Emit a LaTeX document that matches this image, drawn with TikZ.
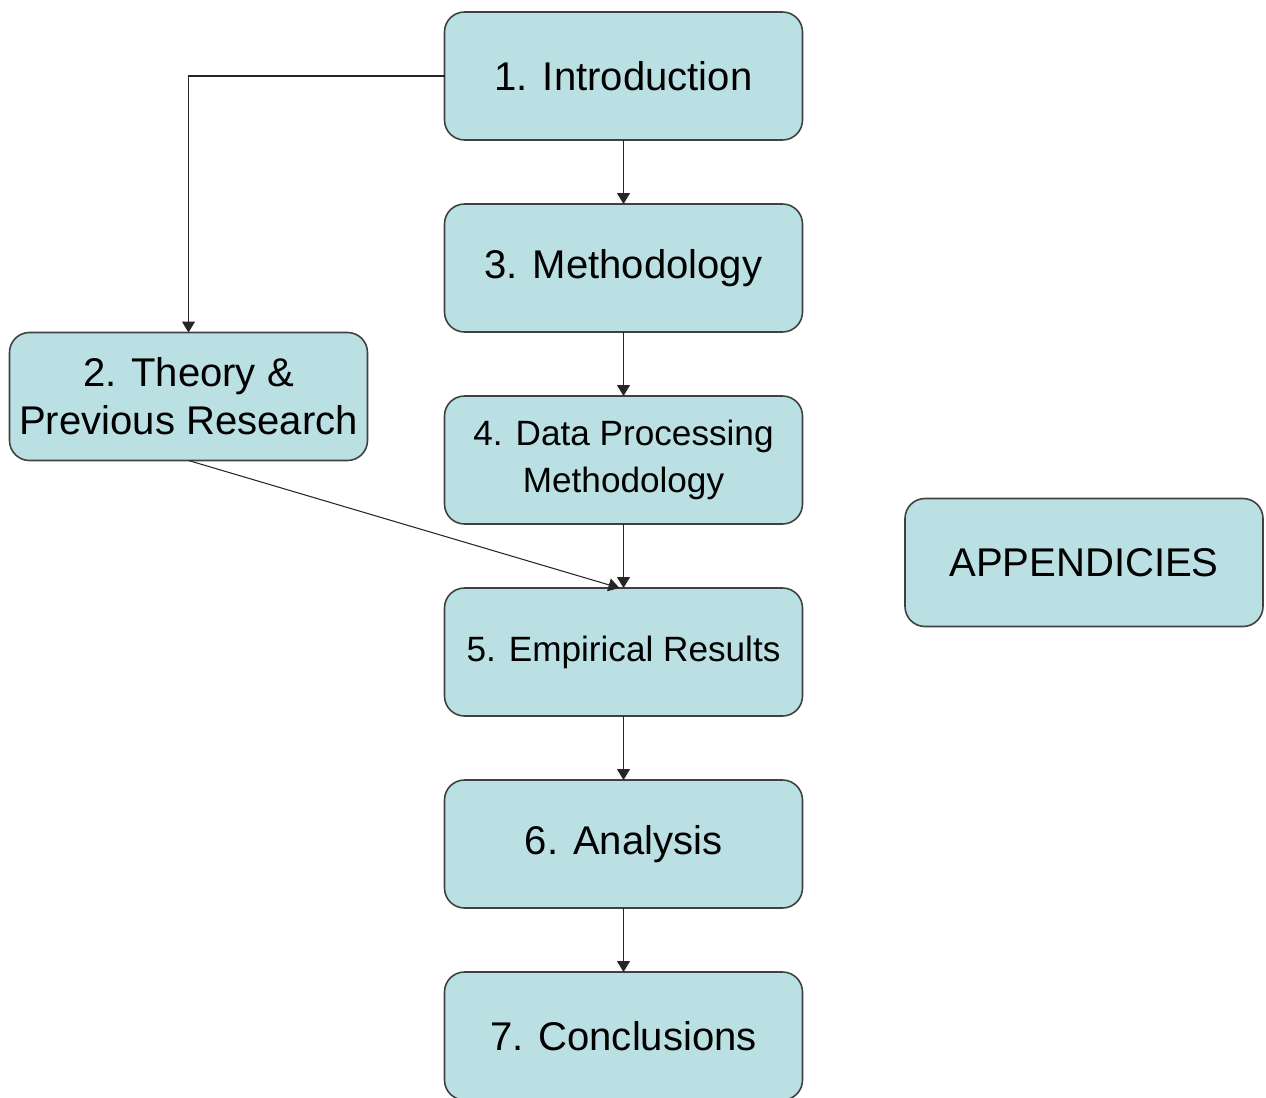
\documentclass[tikz,border=0pt]{standalone}
\usepackage{fontspec}
\setmainfont{Liberation Sans}
\usepackage{xcolor}
\usepackage{tikz}
\usetikzlibrary{positioning,arrows.meta}
\definecolor{chapfill}{HTML}{BAE0E3}
\definecolor{chapline}{HTML}{404040}
\begin{document}
\begin{tikzpicture}[node distance=1.28cm, font=\fontsize{22.8}{27.4}\selectfont,
  box/.style={draw=chapline,line width=0.9pt,rounded corners=0.4cm,align=center,minimum width=7.16cm,minimum height=2.56cm,outer sep=0pt,fill=#1},
  box/.default=chapfill,
  small/.style={font=\fontsize{20}{26.5}\selectfont},
  link/.style={draw=black!85,line width=0.6pt,-{Triangle[length=0.22cm,width=0.26cm]}}]
\useasboundingbox (0,0) rectangle (25.32,-21.94);
\node[box] (intro) at (12.47,-1.52) {1. Introduction};
\node[box,below=of intro] (meth) {3. Methodology};
\node[box,below=of meth,small] (data) {4. Data Processing\\ Methodology};
\node[box,below=of data,small] (emp) {5. Empirical Results};
\node[box,below=of emp] (ana) {6. Analysis};
\node[box,below=of ana] (concl) {7. Conclusions};
\node[box] (theory) at (3.77,-7.93) {2. Theory \&\\ Previous Research};
\node[box] (app) at (21.68,-11.25) {APPENDICIES};
\foreach \a/\b in {intro/meth,meth/data,data/emp,emp/ana,ana/concl} \draw[link] (\a) -- (\b);
\draw[link] (intro.west) -| (theory.north);
\draw[link] (theory.south) -- ([xshift=-0.08cm]emp.north);
\end{tikzpicture}
\end{document}
